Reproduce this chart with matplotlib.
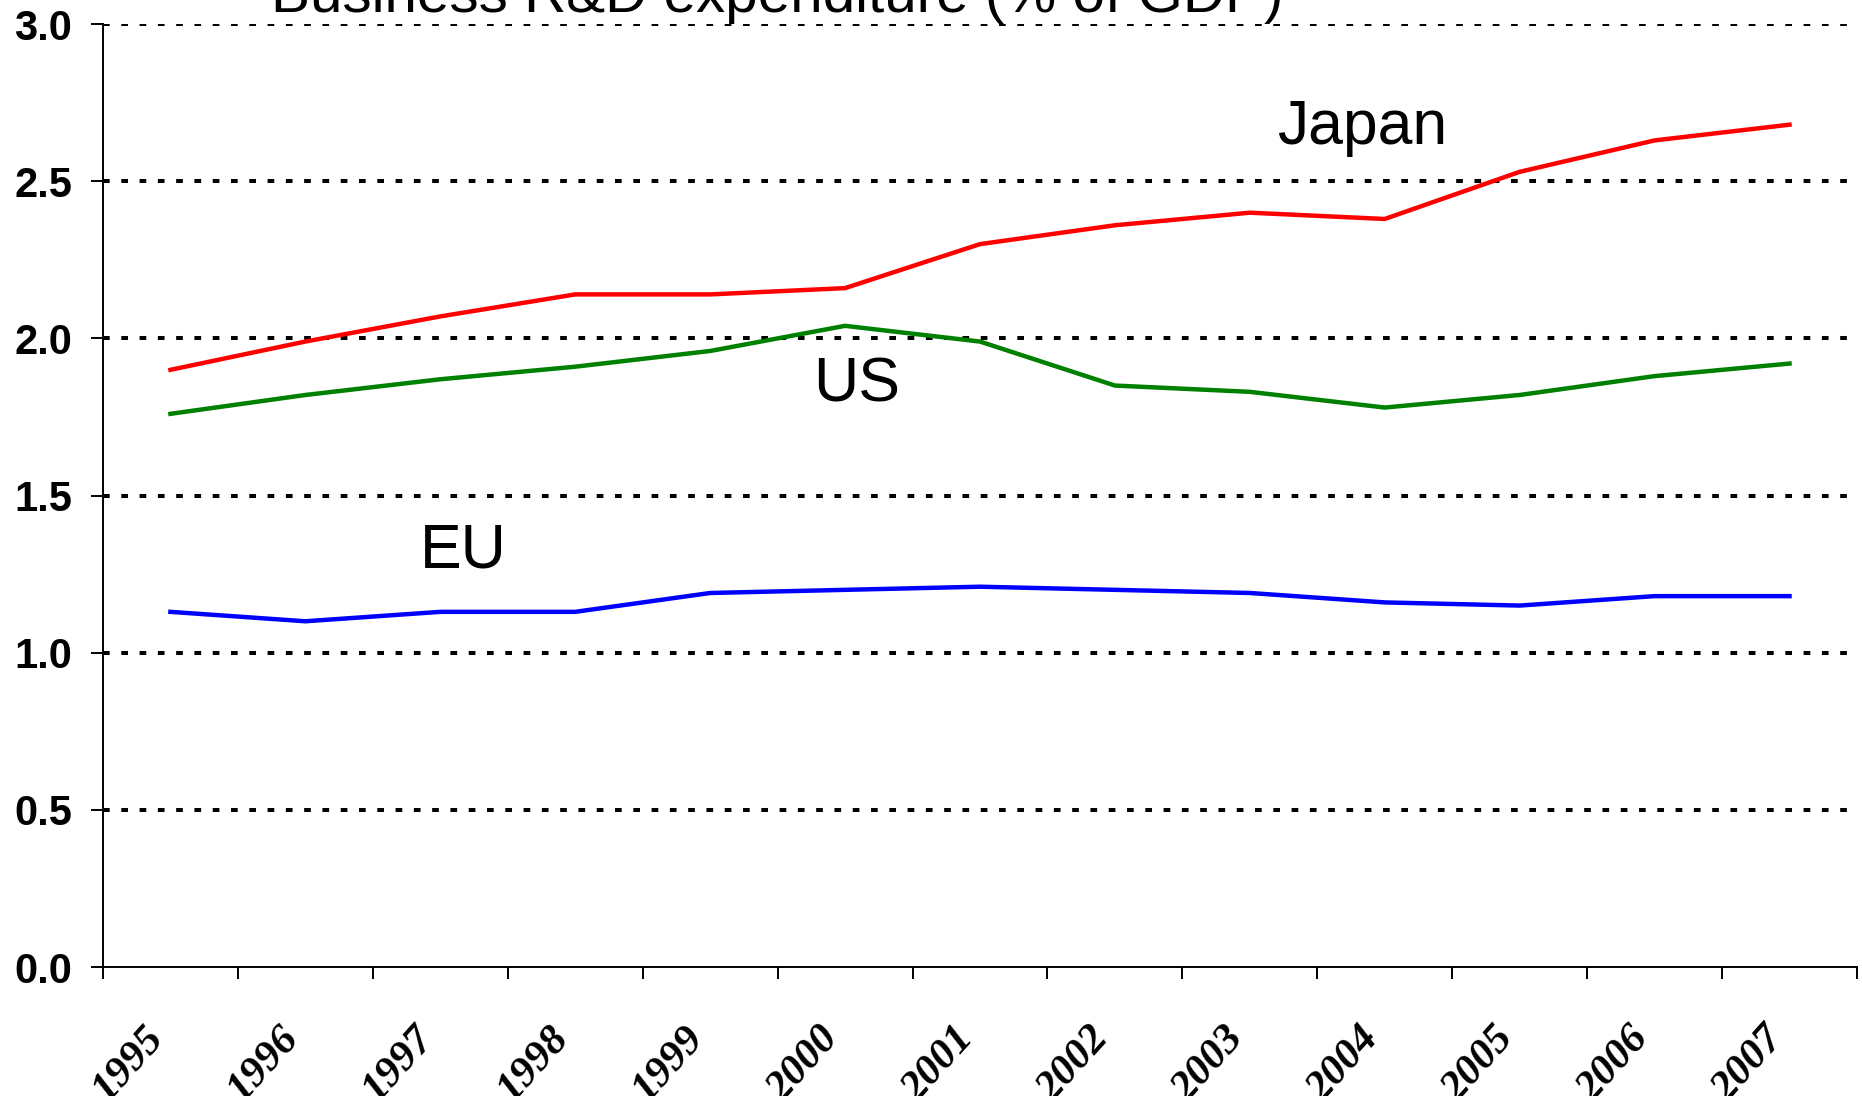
import numpy as np
import matplotlib
matplotlib.use("Agg")
import matplotlib.pyplot as plt
from matplotlib.transforms import ScaledTranslation

# Business R&D expenditure (% of GDP)
years = [str(y) for y in range(1995, 2008)]
japan = [1.90, 1.99, 2.07, 2.14, 2.14, 2.16, 2.30, 2.36, 2.40, 2.38, 2.53, 2.63, 2.68]
us = [1.76, 1.82, 1.87, 1.91, 1.96, 2.04, 1.99, 1.85, 1.83, 1.78, 1.82, 1.88, 1.92]
eu = [1.13, 1.10, 1.13, 1.13, 1.19, 1.20, 1.21, 1.20, 1.19, 1.16, 1.15, 1.18, 1.18]
yticks = [0.0, 0.5, 1.0, 1.5, 2.0, 2.5, 3.0]

fig = plt.figure(figsize=(18.62, 10.96), dpi=100)
ax = fig.add_axes([0.0553, 0.1177, 0.9420, 0.8603])

x = np.arange(len(years))

# gridlines (dotted, drawn below the data)
for yv in yticks[1:]:
    ax.axhline(yv, color="black", lw=2.9, dashes=(1.66, 2.88), zorder=1)

ax.plot(x, japan, color="#ff0000", lw=3.2, zorder=3)
ax.plot(x, us, color="#008000", lw=3.2, zorder=3)
ax.plot(x, eu, color="#0000ff", lw=3.2, zorder=3)

ax.set_xlim(-0.5, len(years) - 0.5)
ax.set_ylim(0, 3.0)

ax.spines["top"].set_visible(False)
ax.spines["right"].set_visible(False)
ax.spines["left"].set_linewidth(1.4)
ax.spines["bottom"].set_linewidth(1.4)

ax.set_yticks(yticks)
ax.set_yticklabels([f"{v:.1f}" for v in yticks], fontsize=30, fontweight="bold",
                   family="Liberation Sans")
ax.tick_params(axis="y", length=9, width=1.4, pad=13)

# category ticks between years, labels at centres
ax.set_xticks(np.arange(-0.5, len(years), 1.0), minor=True)
ax.set_xticks(x)
ax.set_xticklabels(years, rotation=48, ha="right", va="center", rotation_mode="anchor",
                   fontsize=31, fontweight="bold", fontstyle="italic",
                   family="Liberation Serif")
ax.tick_params(axis="x", which="major", length=0, pad=44)
ax.tick_params(axis="x", which="minor", length=8.5, width=1.4)
shift = ScaledTranslation(-12 / 100, -4 / 100, fig.dpi_scale_trans)
for lab in ax.get_xticklabels():
    lab.set_transform(lab.get_transform() + shift)

ax.text(8.2, 2.62, "Japan", fontsize=45, family="Liberation Sans", ha="left", va="baseline")
ax.text(4.76, 1.80, "US", fontsize=45, family="Liberation Sans", ha="left", va="baseline")
ax.text(1.85, 1.27, "EU", fontsize=45, family="Liberation Sans", ha="left", va="baseline")

fig.text(271 / 1862, 1 - 12 / 1096, "Business R&D expenditure (% of GDP)", fontsize=42,
         family="Liberation Sans", ha="left", va="baseline")

fig.savefig("out.png", dpi=100)
